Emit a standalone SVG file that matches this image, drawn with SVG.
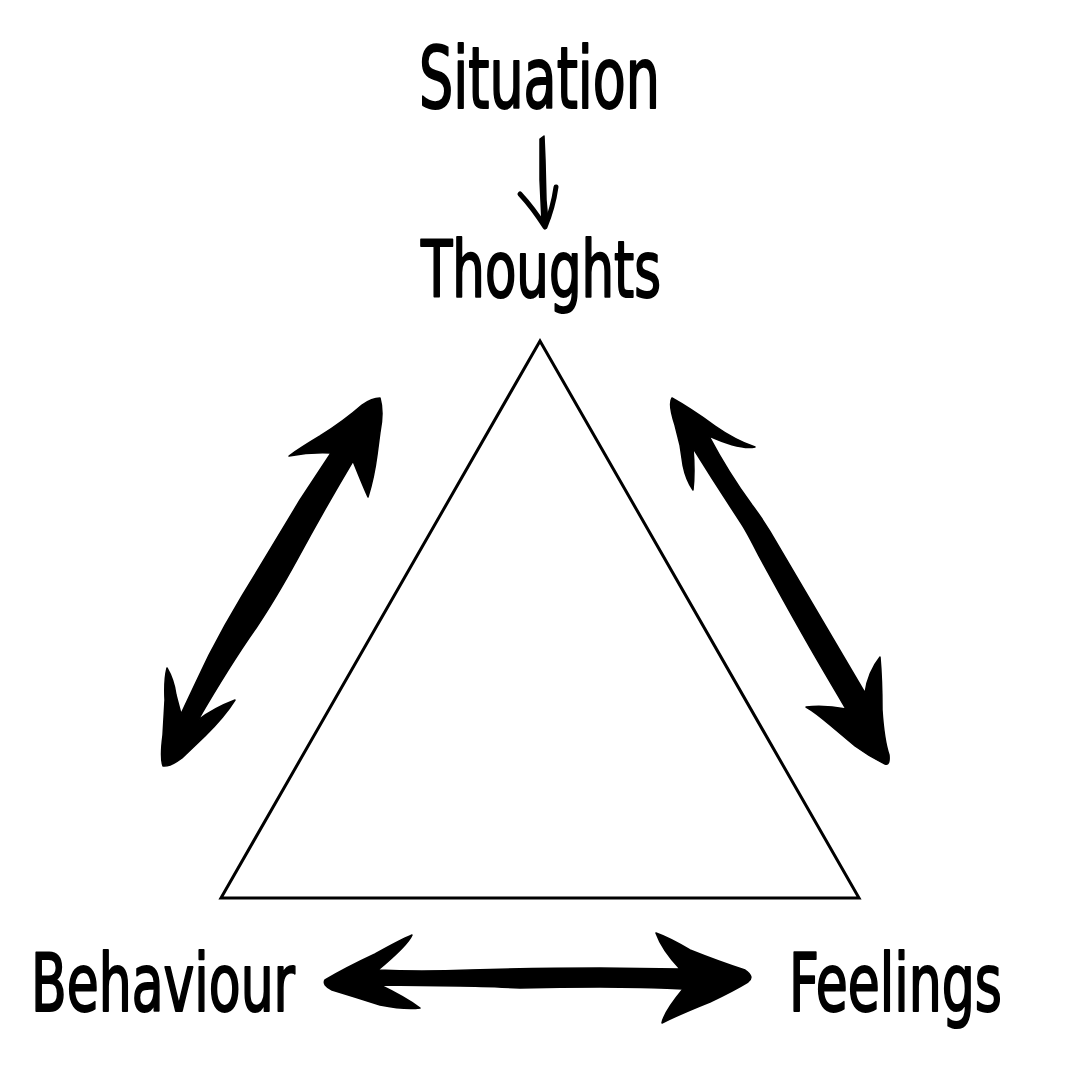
<svg xmlns="http://www.w3.org/2000/svg" width="1080" height="1080" viewBox="0 0 1080 1080">
<style>
.lbl{font-family:"DejaVu Sans Condensed","DejaVu Sans","Liberation Sans",sans-serif;font-stretch:condensed;fill:#000;stroke:#000;stroke-width:2;stroke-linejoin:round}
.arr{fill:#000;stroke:#000;stroke-width:1.5;stroke-linejoin:round}
</style>
<rect width="1080" height="1080" fill="#fff"/>
<g id="triangle">
<polygon points="540,341 221,898 859,898" fill="none" stroke="#000" stroke-width="3"/>
</g>
<g id="situation"><text class="lbl" x="419" y="108" font-size="85" textLength="241" lengthAdjust="spacingAndGlyphs">Situation</text></g>
<g id="thoughts"><text class="lbl" x="421" y="297" font-size="79" textLength="240" lengthAdjust="spacingAndGlyphs">Thoughts</text></g>
<g id="behaviour"><text class="lbl" x="31" y="1011" font-size="81" textLength="264" lengthAdjust="spacingAndGlyphs">Behaviour</text></g>
<g id="feelings"><text class="lbl" x="789" y="1011" font-size="81" textLength="213" lengthAdjust="spacingAndGlyphs">Feelings</text></g>
<g id="connectors">
<path class="arr" d="M540,139 L544,136 L545,160 L546,200 L548,222 L546,226 L542,222 L540,180 Z"/>
<g fill="none" stroke="#000" stroke-width="5" stroke-linecap="round" stroke-linejoin="round">
<path d="M520,194 Q533,208 545,227 Q553,208 556,187"/>
</g>
<path class="arr" d="M380,398 Q384,412 380,432 L377,455 Q374,478 368,497 Q363,486 353,461 Q325,508 298,558 Q275,600 256,628 Q230,665 198,720 Q214,708 235,700 Q225,716 205,736 L182,758 Q170,767 163,766 Q160,758 163,735 L165,700 Q164,680 167,668 Q174,680 176,695 L181,714 Q196,682 209,655 Q224,626 242,596 Q272,546 300,500 L331,453 Q310,452 289,456 Q300,448 320,436 Q345,420 362,405 Q372,398 380,398 Z"/>
<path class="arr" d="M672,398 Q690,408 715,426 Q735,440 755,447 Q740,450 709,436 Q728,472 752,505 Q765,522 778,545 Q822,620 865,693 Q868,672 880,657 Q882,680 882,710 Q884,740 889,755 Q890,766 885,764 Q870,757 855,746 L830,725 Q815,712 806,707 Q825,705 846,709 Q818,662 800,630 Q782,598 759,556 Q747,532 741,523 Q716,485 693,448 Q695,472 693,490 Q686,480 683,465 L680,445 L675,425 Q668,404 672,398 Z"/>
<path class="arr" d="M325,980 Q345,968 375,954 Q400,940 412,935 Q408,945 378,970 Q420,972 470,970 Q540,968 600,968 L680,969 Q662,950 656,933 Q670,938 690,950 Q720,962 745,970 Q755,977 748,982 Q735,990 710,1002 Q680,1014 662,1023 Q664,1012 683,989 Q640,987 600,987 Q560,987 520,988 Q480,986 460,986 L380,985 Q405,997 420,1008 Q405,1010 380,1005 Q355,997 332,990 Q322,985 325,980 Z"/>
</g>
</svg>
